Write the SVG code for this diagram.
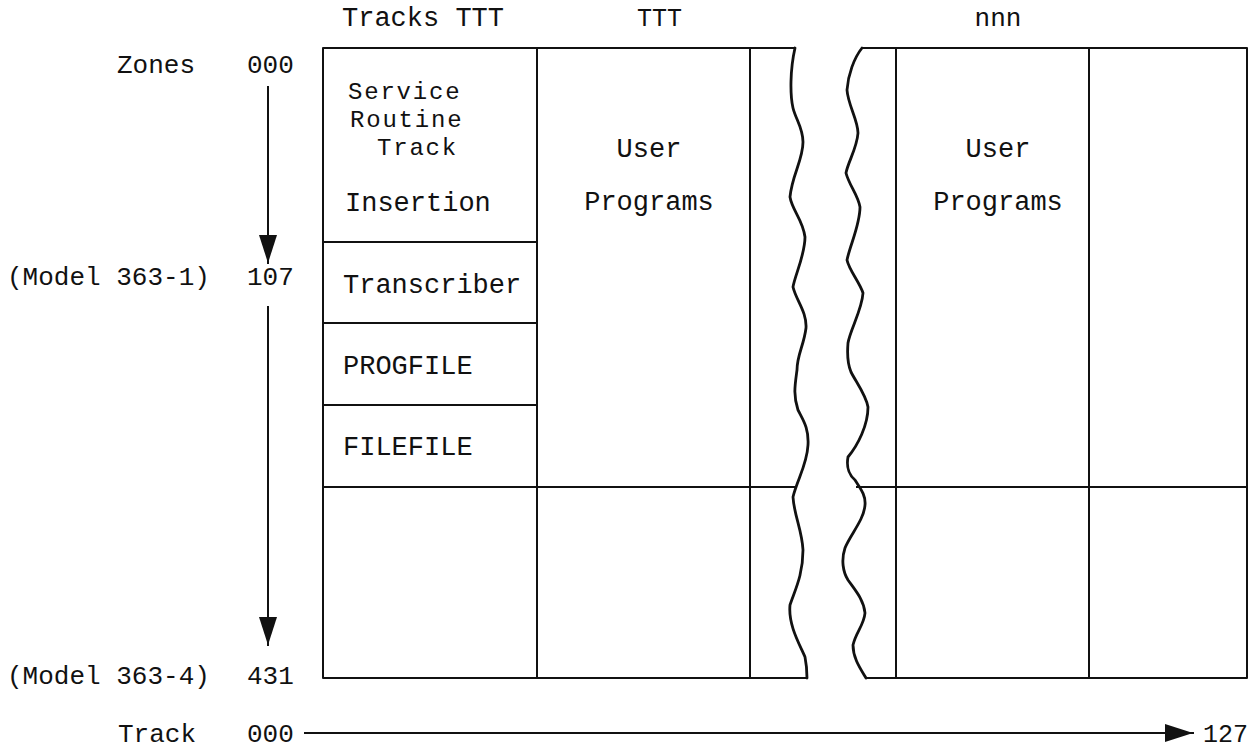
<svg xmlns="http://www.w3.org/2000/svg" width="1255" height="750" viewBox="0 0 1255 750">
<style>
.ln{stroke:#111;stroke-width:2;fill:none;stroke-linecap:square;stroke-linejoin:round}
.wv{stroke:#111;stroke-width:2.8;fill:none;stroke-linecap:round;stroke-linejoin:round}
.lbl{font-family:"Liberation Mono","Courier New",monospace;font-size:26px;fill:#111}
.box{font-family:"Liberation Mono","Courier New",monospace;font-size:27px;fill:#111}
.tight{font-family:"Liberation Mono","Courier New",monospace;font-size:24px;letter-spacing:1.8px;fill:#111}
</style>
<defs>
<marker id="ah" markerWidth="28" markerHeight="18" refX="28" refY="9" orient="auto" markerUnits="userSpaceOnUse" viewBox="0 0 28 18">
<path d="M0,0 L28,9 L0,18 Z" fill="#111"/>
</marker>
</defs>
<rect width="1255" height="750" fill="#fff"/>

<g id="header-labels">
<text class="box" x="342" y="26">Tracks TTT</text>
<text class="lbl" x="637" y="26" style="font-size:25px">TTT</text>
<text class="lbl" x="998" y="26" text-anchor="middle">nnn</text>
</g>

<g id="zone-labels">
<text class="lbl" x="117" y="73">Zones</text>
<text class="lbl" x="247" y="73">000</text>
<text class="lbl" x="7" y="285">(Model 363-1)</text>
<text class="lbl" x="247" y="285">107</text>
<text class="lbl" x="7" y="684">(Model 363-4)</text>
<text class="lbl" x="247" y="684">431</text>
<text class="lbl" x="118" y="742">Track</text>
<text class="lbl" x="247" y="742">000</text>
<text class="lbl" x="1203" y="742" style="font-size:25px">127</text>
</g>

<g id="left-block">
<path class="ln" d="M795,48 L323,48 L323,678 L807,678"/>
<line class="ln" x1="537" y1="48" x2="537" y2="678"/>
<line class="ln" x1="750" y1="48" x2="750" y2="678"/>
<line class="ln" x1="323" y1="242" x2="537" y2="242"/>
<line class="ln" x1="323" y1="323" x2="537" y2="323"/>
<line class="ln" x1="323" y1="405" x2="537" y2="405"/>
<line class="ln" x1="323" y1="487" x2="795" y2="487"/>
<path class="wv" d="M795,48 C790,70 790,95 793,108 C796,120 803,128 803,142 C803,160 792,175 790,197 C792,210 803,220 805,237 C805,255 795,275 793,287 C796,300 807,312 806,328 C804,345 797,355 797,370 C795,385 793,395 798,410 C803,420 809,428 808,445 C807,465 797,480 793,497 C794,515 802,530 803,550 C803,575 795,590 790,605 C788,625 800,645 805,657 C807,667 807,672 807,678"/>
</g>

<g id="service-routine-cell">
<text class="tight" x="348" y="99">Service</text>
<text class="tight" x="350" y="127">Routine</text>
<text class="tight" x="377" y="155">Track</text>
<text class="box" x="345" y="211">Insertion</text>
</g>
<g id="transcriber-cell"><text class="box" x="343" y="293">Transcriber</text></g>
<g id="progfile-cell"><text class="box" x="343" y="374">PROGFILE</text></g>
<g id="filefile-cell"><text class="box" x="343" y="455">FILEFILE</text></g>
<g id="user-programs-1">
<text class="box" x="649" y="157" text-anchor="middle">User</text>
<text class="box" x="649" y="210" text-anchor="middle">Programs</text>
</g>

<g id="right-block">
<path class="ln" d="M862,48 L1247,48 L1247,678 L866,678"/>
<line class="ln" x1="896" y1="48" x2="896" y2="678"/>
<line class="ln" x1="1089" y1="48" x2="1089" y2="678"/>
<line class="ln" x1="857" y1="487" x2="1247" y2="487"/>
<path class="wv" d="M862,48 C854,58 848,75 847,90 C848,105 858,120 858,133 C857,148 848,162 846,173 C849,185 858,195 860,207 C860,225 850,245 847,260 C849,270 860,283 863,293 C862,310 850,330 848,343 C847,355 848,365 851,372 C856,382 866,395 868,407 C868,425 858,445 848,457 C846,468 850,476 855,480 C860,488 866,495 865,505 C864,520 850,535 845,548 C841,560 843,572 848,580 C855,590 864,600 865,613 C864,625 856,632 853,645 C853,658 860,668 866,678"/>
</g>
<g id="user-programs-2">
<text class="box" x="998" y="157" text-anchor="middle">User</text>
<text class="box" x="998" y="210" text-anchor="middle">Programs</text>
</g>

<g id="connectors">
<line class="ln" x1="268" y1="87" x2="268" y2="263" marker-end="url(#ah)"/>
<line class="ln" x1="268" y1="307" x2="268" y2="645" marker-end="url(#ah)"/>
<line class="ln" x1="305" y1="733" x2="1193" y2="733" marker-end="url(#ah)"/>
</g>
</svg>
